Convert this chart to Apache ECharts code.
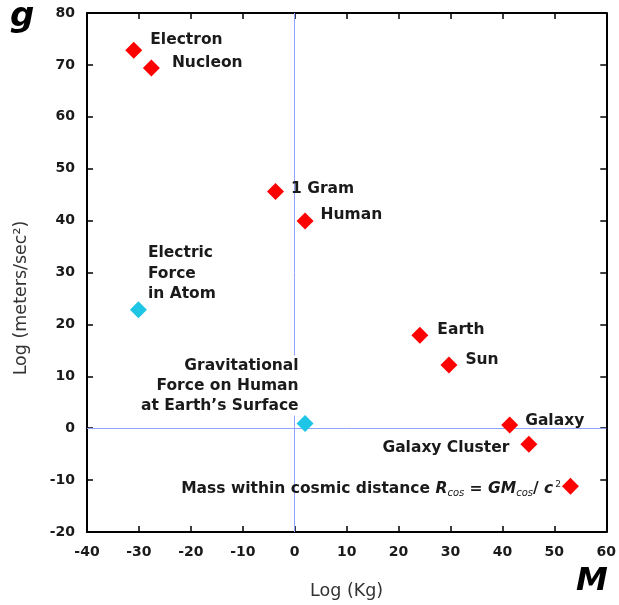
<!DOCTYPE html>
<html>
<head>
<meta charset="utf-8">
<script src="https://cdn.jsdelivr.net/npm/echarts@6/dist/echarts.min.js"></script>
<style>
html,body{margin:0;padding:0;background:#fff;overflow:hidden;width:619px;height:605px;}
#c{width:619px;height:605px;overflow:hidden;}
</style>
</head>
<body>
<div id="c"></div>
<script>
// ---- data ----
var names = ['Electron','Nucleon','1 Gram','Human','Electric\nForce\nin Atom','Gravitational\nForce on Human\nat Earth\u2019s Surface','Earth','Sun','Galaxy','Galaxy Cluster','Mass within cosmic distance'];
var logMass = [-31.0, -27.6, -3.7, 2.0, -30.1, 2.0, 24.1, 29.7, 41.4, 45.1, 53.1];
var logG    = [72.8, 69.4, 45.6, 39.9, 22.8, 0.9, 17.9, 12.2, 0.6, -3.1, -11.2];
var kinds   = ['g','g','g','g','e','e','g','g','g','g','g']; // g: red marks, e: cyan marks
var xTicks = [-40,-30,-20,-10,0,10,20,30,40,50,60];
var yTicks = [-20,-10,0,10,20,30,40,50,60,70,80];

var FONT = 'DejaVu Sans';
var LW = 'bold';
var LS = 15.5;
var TC = '#1a1a1a';
var labelCfg = {
  'Electron': {position:'right', distance:8, offset:[0,-10]},
  'Nucleon': {position:'right', distance:12, offset:[0,-5]},
  '1 Gram': {position:'right', distance:7, offset:[0,-3]},
  'Human': {position:'right', distance:7, offset:[0,-6]},
  'Electric\nForce\nin Atom': {position:'right', distance:1, offset:[0,-36], align:'left', lineHeight:20.5},
  'Gravitational\nForce on Human\nat Earth\u2019s Surface': {position:'left', distance:-2, offset:[0,-38], align:'right', lineHeight:20, backgroundColor:'#fff'},
  'Earth': {position:'right', distance:9, offset:[0,-5]},
  'Sun': {position:'right', distance:8, offset:[0,-5]},
  'Galaxy': {position:'right', distance:7, offset:[0,-4]},
  'Galaxy Cluster': {position:'left', distance:11, offset:[0,4]},
  'Mass within cosmic distance': {position:'left', distance:1, offset:[0,3],
     formatter:'Mass within cosmic distance {i|R}{sub|cos}{n| = }{i|GM}{sub|cos}{n|/ }{i|c}{sup|2}'}
};

var data = names.map(function(n,i){
  var lc = labelCfg[n] || {};
  var label = {show:true, position:lc.position, distance:lc.distance, offset:lc.offset,
    color:TC, fontFamily:FONT, fontWeight:LW, fontSize:LS};
  if (lc.align) label.align = lc.align;
  if (lc.lineHeight) label.lineHeight = lc.lineHeight;
  if (lc.backgroundColor) { label.backgroundColor = lc.backgroundColor; }
  if (lc.formatter) {
    label.formatter = lc.formatter;
    label.rich = {
      i:{fontStyle:'italic', fontFamily:FONT, fontWeight:LW, fontSize:LS, color:TC},
      n:{fontFamily:FONT, fontWeight:LW, fontSize:LS, color:TC},
      sub:{fontStyle:'italic', fontFamily:FONT, fontWeight:'normal', fontSize:10, color:TC, verticalAlign:'bottom', padding:[8,0,0,0]},
      sup:{fontFamily:FONT, fontWeight:'normal', fontSize:9, color:TC, verticalAlign:'top', padding:[0,0,6,2]}
    };
  } else {
    label.formatter = n;
  }
  return {value:[logMass[i], logG[i]], name:n,
    itemStyle:{color: kinds[i]==='e' ? '#1ec5e5' : '#ff0000', opacity:1}, label:label};
});

var chart = echarts.init(document.getElementById('c'), null, {renderer:'canvas', width:619, height:605});
var axisBase = {
  type:'value', splitLine:{show:false},
  axisLine:{show:true, onZero:false, lineStyle:{color:'#000', width:2}},
  axisTick:{show:true, inside:true, length:6, lineStyle:{color:'#000', width:1.5}}
};
var option = {
  animation:false,
  grid:{left:87, right:10, top:13, bottom:70},
  xAxis:[
    Object.assign({}, axisBase, {position:'bottom', min:-40, max:60, interval:10,
      axisLabel:{color:TC, fontFamily:FONT, fontWeight:'bold', fontSize:14, margin:13},
      name:'Log (Kg)', nameLocation:'middle', nameGap:50,
      nameTextStyle:{color:'#333', fontFamily:FONT, fontSize:17.5}}),
    Object.assign({}, axisBase, {position:'top', min:-40, max:60, interval:10, axisLabel:{show:false}})
  ],
  yAxis:[
    Object.assign({}, axisBase, {position:'left', min:-20, max:80, interval:10,
      axisLabel:{color:TC, fontFamily:FONT, fontWeight:'bold', fontSize:14, margin:12}}),
    Object.assign({}, axisBase, {position:'right', min:-20, max:80, interval:10, axisLabel:{show:false}})
  ],
  series:[{
    type:'scatter', symbol:'diamond', symbolSize:17,
    data:data, z:5,
    emphasis:{disabled:true},
    markLine:{silent:true, symbol:'none', label:{show:false}, z:1,
      lineStyle:{color:'#90a4ff', width:1, type:'solid'},
      data:[{xAxis:0},{yAxis:0}]}
  }],
  graphic:[
    {type:'text', left:10, top:0, style:{text:'g', font:'italic bold 34px '+FONT, fill:'#000'}},
    {type:'text', left:576, top:566, style:{text:'M', font:'italic bold 32px '+FONT, fill:'#000'}},
    {type:'text', x:21, y:298, rotation:Math.PI/2,
      style:{text:'Log (meters/sec\u00b2)', font:'17.5px '+FONT, fill:'#333', align:'center', verticalAlign:'middle'}}
  ]
};
chart.setOption(option);
</script>
</body>
</html>
